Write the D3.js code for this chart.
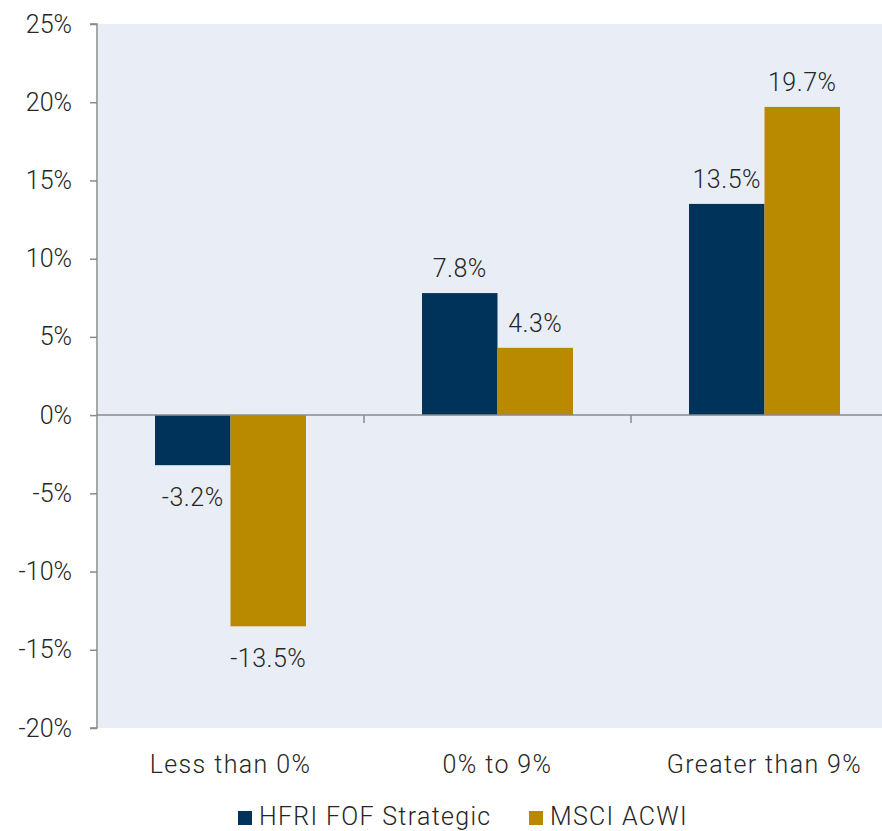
<!DOCTYPE html>
<html>
<head>
<meta charset="utf-8">
<script src="https://cdn.jsdelivr.net/npm/d3@7"></script>
<style>
  html, body { margin: 0; padding: 0; background: #ffffff; }
  svg { display: block; }
  text { font-family: Roboto, "Noto Sans", sans-serif; fill: #262626; }
</style>
</head>
<body>
<svg id="chart" width="882" height="831"></svg>
<script>
const categories = ["Less than 0%", "0% to 9%", "Greater than 9%"];
const seriesNames = ["HFRI FOF Strategic", "MSCI ACWI"];
const hfriValues = [-3.2, 7.8, 13.5];
const msciValues = [-13.5, 4.3, 19.7];
const yTicks = [25, 20, 15, 10, 5, 0, -5, -10, -15, -20];
const seriesColors = ["#003359", "#B98A00"];

const seriesValues = [hfriValues, msciValues];
const svg = d3.select("#chart");

const plot = { left: 98, right: 898, top: 24, bottom: 728 };

const y = d3.scaleLinear().domain([-20, 25]).range([plot.bottom, plot.top]);
const x0 = d3.scaleBand().domain(categories).range([97, 898]).padding(0);
const x1 = d3.scaleBand().domain(seriesNames).range([58, 209]).padding(0);

// plot background
svg.append("rect")
  .attr("x", plot.left).attr("y", plot.top)
  .attr("width", 882 - plot.left).attr("height", plot.bottom - plot.top)
  .attr("fill", "#E9EEF6");

// bars
const groups = svg.append("g").selectAll("g")
  .data(categories).join("g")
  .attr("transform", d => `translate(${x0(d)},0)`);

groups.each(function(cat, ci) {
  const g = d3.select(this);
  seriesNames.forEach((s, si) => {
    const v = seriesValues[si][ci];
    g.append("rect")
      .attr("x", x1(s))
      .attr("width", x1.bandwidth())
      .attr("y", y(Math.max(0, v)))
      .attr("height", Math.abs(y(v) - y(0)))
      .attr("fill", seriesColors[si]);
    g.append("text")
      .attr("x", x1(s) + x1.bandwidth() / 2)
      .attr("y", v >= 0 ? y(v) - 16 : y(v) + 41)
      .attr("text-anchor", "middle")
      .attr("font-size", 25)
      .attr("font-weight", 300)
      .attr("letter-spacing", 0.5)
      .text(v.toFixed(1) + "%");
  });
});

// y axis
const yAxis = d3.axisLeft(y).tickValues(yTicks).tickSize(7).tickPadding(18)
  .tickFormat(d => d + "%");
const ya = svg.append("g").attr("transform", "translate(97,0)").call(yAxis);
ya.select(".domain").attr("stroke", "#8a8a8a").attr("stroke-width", 1.5)
  .attr("d", `M-7,${plot.top}H0V${plot.bottom}H-7`);
ya.selectAll(".tick line").attr("stroke", "#8a8a8a").attr("stroke-width", 1.5);
ya.selectAll(".tick text").attr("font-size", 25).attr("font-weight", 300)
  .attr("fill", "#262626").style("font-family", "Roboto, sans-serif");

// zero line with category separators
const xAxis = d3.axisBottom(x0).tickSize(0).tickFormat("");
const xa = svg.append("g").attr("transform", `translate(0,${y(0)})`).call(xAxis);
xa.select(".domain").attr("stroke", "#8a8a8a").attr("stroke-width", 1.5)
  .attr("d", `M97,0H882`);
xa.selectAll(".tick").remove();
xa.selectAll(".sep").data(categories.slice(1)).join("line")
  .attr("class", "sep")
  .attr("x1", d => x0(d)).attr("x2", d => x0(d))
  .attr("y1", 0).attr("y2", 8)
  .attr("stroke", "#8a8a8a").attr("stroke-width", 1.5);

// category labels
svg.append("g").selectAll("text").data(categories).join("text")
  .attr("x", d => x0(d) + (x1("HFRI FOF Strategic") + x1("MSCI ACWI") + x1.bandwidth()) / 2)
  .attr("y", 773)
  .attr("text-anchor", "middle")
  .attr("font-size", 25)
  .attr("font-weight", 300)
  .attr("letter-spacing", 1.4)
  .text(d => d);

// legend
const legendItems = [
  { name: seriesNames[0], color: seriesColors[0], x: 238 },
  { name: seriesNames[1], color: seriesColors[1], x: 529 }
];
const lg = svg.append("g").selectAll("g").data(legendItems).join("g")
  .attr("transform", d => `translate(${d.x},0)`);
lg.append("rect").attr("x", 0).attr("y", 811).attr("width", 14).attr("height", 14)
  .attr("fill", d => d.color);
lg.append("text").attr("x", 21).attr("y", 825)
  .attr("font-size", 25).attr("font-weight", 300).attr("letter-spacing", 1.3)
  .text(d => d.name);
</script>
</body>
</html>
